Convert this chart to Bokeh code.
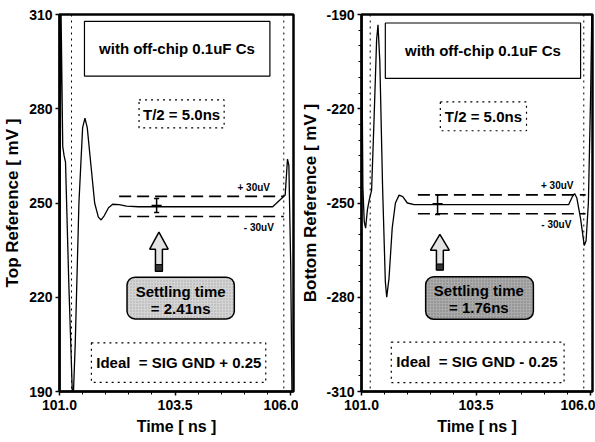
from bokeh.plotting import figure
from bokeh.layouts import row
from bokeh.models import (Range1d, FixedTicker, Label, BoxAnnotation, Span,
                          NumeralTickFormatter, CustomJSTickFormatter)
from bokeh.embed import file_html
from bokeh.resources import INLINE

# ---------------- data ----------------
top_time = [101.00, 101.03, 101.07, 101.10, 101.13, 101.20, 101.28, 101.30, 101.34, 101.42,
            101.50, 101.55, 101.60, 101.68, 101.76, 101.84, 101.90, 101.97, 102.06, 102.15,
            102.29, 102.45, 102.70, 105.61, 105.83, 105.88, 105.93, 105.96, 106.00, 106.03]
top_mv = [185.0, 315.0, 268.0, 265.0, 263.0, 225.0, 188.5, 189.0, 205.0, 250.0,
          274.0, 277.0, 274.0, 262.0, 250.0, 245.5, 244.6, 246.0, 248.5, 249.6,
          249.5, 249.0, 248.8, 248.8, 251.8, 252.5, 264.0, 262.0, 230.0, 185.0]

bot_time = [101.00, 101.03, 101.06, 101.09, 101.13, 101.17, 101.22, 101.27, 101.33, 101.36,
            101.40, 101.46, 101.52, 101.55, 101.60, 101.67, 101.74, 101.82, 101.90, 102.00,
            102.15, 105.52, 105.60, 105.65, 105.70, 105.78, 105.86, 105.90, 105.95, 106.00, 106.03]
bot_mv = [-185.0, -245.0, -256.0, -258.0, -252.0, -249.0, -246.0, -225.0, -198.0, -193.3,
          -205.0, -245.0, -275.0, -280.0, -274.0, -258.0, -250.0, -247.5, -248.0, -250.0,
          -250.5, -250.5, -248.0, -247.0, -248.5, -255.0, -263.5, -262.0, -250.0, -215.0, -185.0]

top_yticks = [190, 220, 250, 280, 310]
bot_yticks = [-310, -280, -250, -220, -190]
bot_yminor = [-305, -300, -295, -290, -285, -275, -270, -265, -260, -255, -245, -240,
              -235, -230, -225, -215, -210, -205, -200, -195]
time_ticks = [101.0, 103.5, 106.0]
time_minor = [101.5, 102.0, 102.5, 103.0, 104.0, 104.5, 105.0, 105.5]

top_band = [245.7, 252.1]      # -30uV / +30uV lines
bot_band = [-253.4, -247.4]
top_settle = "= 2.41ns"
bot_settle = "= 1.76ns"
top_ideal = "Ideal\u00a0 = SIG GND + 0.25"
bot_ideal = "Ideal\u00a0 = SIG GND - 0.25"

FONT = "Liberation Sans"


def make_panel(t, v, yticks, yminor, ylabel, xr, yr, width, borders,
               ann, settle_text, ideal_text, settle_fill, hatch_color):
    bl, br, bt, bb = borders
    p = figure(width=width, height=442, output_backend="svg", toolbar_location=None,
               x_range=Range1d(*xr), y_range=Range1d(*yr),
               min_border_left=bl, min_border_right=br, min_border_top=bt, min_border_bottom=bb)
    p.background_fill_color = "white"
    p.border_fill_color = "white"
    p.outline_line_color = "black"
    p.outline_line_width = 2.5
    p.grid.visible = False

    p.xaxis.ticker = FixedTicker(ticks=time_ticks, minor_ticks=time_minor)
    p.xaxis.formatter = NumeralTickFormatter(format="0.0")
    p.yaxis.ticker = FixedTicker(ticks=yticks, minor_ticks=yminor)
    p.yaxis.formatter = CustomJSTickFormatter(code="return tick.toFixed(0);")
    for ax in (p.xaxis, p.yaxis):
        ax.axis_line_width = 2
        ax.major_tick_in = 0
        ax.major_tick_out = 4
        ax.major_tick_line_width = 1.5
        ax.minor_tick_in = 0
        ax.minor_tick_out = 3
        ax.major_label_text_font = FONT
        ax.major_label_text_font_style = "bold"
        ax.major_label_text_font_size = "14px"
        ax.major_label_text_color = "black"
        ax.axis_label_text_font = FONT
        ax.axis_label_text_font_style = "bold"
        ax.axis_label_text_color = "black"
    p.xaxis.axis_label = "Time [ ns ]"
    p.xaxis.axis_label_text_font_size = "16px"
    p.xaxis.major_label_standoff = 4
    p.xaxis.axis_label_standoff = 5
    p.yaxis.axis_label = ylabel
    p.yaxis.axis_label_text_font_size = "17px"
    p.yaxis.major_label_standoff = 3
    p.yaxis.axis_label_standoff = ann["ylab_standoff"]

    # dotted markers
    for loc in ann["spans"]:
        p.add_layout(Span(location=loc, dimension="height", line_color="black",
                          line_width=1, line_dash="dotted"))

    # boxes
    l, r, b, tp = ann["title_box"]
    p.add_layout(BoxAnnotation(left=l, right=r, bottom=b, top=tp, fill_color=None,
                               line_color="black", line_width=1.2, line_alpha=1))
    l, r, b, tp = ann["t2_box"]
    p.add_layout(BoxAnnotation(left=l, right=r, bottom=b, top=tp, fill_color=None,
                               line_color="black", line_width=1.2, line_alpha=1, line_dash="dotted"))
    l, r, b, tp = ann["ideal_box"]
    p.add_layout(BoxAnnotation(left=l, right=r, bottom=b, top=tp, fill_color=None,
                               line_color="black", line_width=1.2, line_alpha=1, line_dash="dotted"))
    l, r, b, tp = ann["settle_box"]
    p.add_layout(BoxAnnotation(left=l, right=r, bottom=b, top=tp, fill_color=settle_fill,
                               fill_alpha=1, line_color="black", line_width=1.5, line_alpha=1,
                               border_radius=8, hatch_pattern="dot", hatch_color=hatch_color,
                               hatch_scale=3, hatch_alpha=0.6))

    # the waveform
    p.line(t, v, line_color="black", line_width=1.3)

    # +/-30uV band
    x0, x1 = ann["band_x"]
    for yv in ann["band"]:
        p.line([x0, x1], [yv, yv], line_color="black", line_width=1.6, line_dash="12 6")

    # error-bar marker
    ex = ann["err_x"]
    e0, e1, ec = ann["err_y"]
    dx = 0.11
    p.segment(x0=[ex, ex - dx, ex - dx * 0.5, ex - dx * 0.5], y0=[e0, ec, e0, e1],
              x1=[ex, ex + dx, ex + dx * 0.5, ex + dx * 0.5], y1=[e1, ec, e0, e1],
              line_color="black", line_width=1.5)

    # hollow arrow
    ax_c = ann["arrow_x"]
    tip, base, bot = ann["arrow_y"]
    hw, sw = ann["arrow_w"]
    xs = [ax_c, ax_c + hw, ax_c + sw, ax_c + sw, ax_c - sw, ax_c - sw, ax_c - hw]
    ys = [tip, base, base, bot, bot, base, base]
    p.patch(xs, ys, fill_color="#e4e4e4", line_color="black", line_width=1.5)
    p.quad(left=[ax_c - sw], right=[ax_c + sw], bottom=[bot], top=[bot + (base - bot) * 0.3],
           fill_color="#333333", line_color="black", line_width=1)

    def lab(x, y, text, size, align="center"):
        p.add_layout(Label(x=x, y=y, text=text, text_align=align, text_baseline="middle",
                           text_font=FONT, text_font_style="bold", text_font_size=size,
                           text_color="black"))

    lab(*ann["title_txt"], "with off-chip 0.1uF Cs", "15px")
    lab(*ann["t2_txt"], "T/2 = 5.0ns", "15px")
    lab(*ann["s1_txt"], "Settling time", "15px")
    lab(*ann["s2_txt"], settle_text, "15px")
    lab(*ann["ideal_txt"], ideal_text, "15px")
    lab(*ann["plus_txt"], "+ 30uV", "10px")
    lab(*ann["minus_txt"], "- 30uV", "10px")
    return p


top_ann = dict(
    ylab_standoff=4,
    spans=[101.26, 105.85],
    title_box=(101.54, 105.55, 290.4, 307.8), title_txt=(103.54, 299.1),
    t2_box=(102.72, 104.56, 273.9, 282.8), t2_txt=(103.64, 278.3),
    settle_box=(102.46, 104.78, 213.1, 226.4), s1_txt=(103.62, 221.8), s2_txt=(103.62, 216.4),
    ideal_box=(101.69, 105.46, 192.9, 205.5), ideal_txt=(103.58, 199.2),
    band_x=(102.29, 105.85), band=top_band,
    plus_txt=(105.20, 254.9), minus_txt=(105.31, 242.3),
    err_x=103.10, err_y=(247.0, 251.4, 249.2),
    arrow_x=103.15, arrow_y=(240.7, 235.3, 228.3), arrow_w=(0.20, 0.075),
)
bot_ann = dict(
    ylab_standoff=3,
    spans=[101.19, 105.85],
    title_box=(101.52, 105.78, -210.3, -192.7), title_txt=(103.65, -201.5),
    t2_box=(102.72, 104.60, -227.0, -217.8), t2_txt=(103.66, -222.4),
    settle_box=(102.40, 104.75, -287.0, -273.5), s1_txt=(103.56, -277.9), s2_txt=(103.56, -283.4),
    ideal_box=(101.65, 105.42, -307.2, -294.3), ideal_txt=(103.52, -300.6),
    band_x=(102.23, 105.89), band=bot_band,
    plus_txt=(105.27, -244.3), minus_txt=(105.25, -256.8),
    err_x=102.66, err_y=(-253.7, -247.4, -250.2),
    arrow_x=102.71, arrow_y=(-260.0, -265.0, -271.3), arrow_w=(0.205, 0.075),
)

p1 = make_panel(top_time, top_mv, top_yticks, [], "Top Reference [ mV ]",
                (101.0, 106.06), (190, 310), 298, (57, 5, 14, 49),
                top_ann, top_settle, top_ideal, "#d4d4d4", "#888888")
p2 = make_panel(bot_time, bot_mv, bot_yticks, bot_yminor, "Bottom Reference [ mV ]",
                (101.0, 106.04), (-310, -190), 297, (60, 3, 10, 51),
                bot_ann, bot_settle, bot_ideal, "#ababab", "#555555")

layout = row(p1, p2)
open("out.html", "w").write(file_html(layout, INLINE))
